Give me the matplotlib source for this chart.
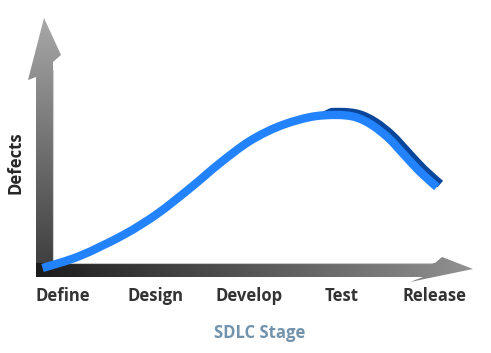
import numpy as np
import matplotlib
matplotlib.use("Agg")
import matplotlib.pyplot as plt
from matplotlib.patches import Polygon, PathPatch
from matplotlib.path import Path
import matplotlib.transforms as mtransforms

# ---- data ----
stages = ["Define", "Design", "Develop", "Test", "Release"]
curve_x = [-0.22, 0.18, 0.65, 1.01, 1.37, 1.69, 2.01, 2.33,
           2.66, 2.93, 3.14, 3.32, 3.50, 3.67, 3.84, 4.02]
curve_defects = [0.0, 6.4, 17.6, 28.7, 42.6, 55.9, 67.6, 75.5,
                 80.3, 81.4, 80.3, 76.1, 69.1, 60.1, 51.1, 43.1]
x_title = "SDLC Stage"
y_title = "Defects"

W, H = 491, 353
fig = plt.figure(figsize=(W / 100, H / 100), dpi=100)
fig.patch.set_facecolor("white")

# background axes in pixel coordinates for decorative gradient arrows
bg = fig.add_axes([0, 0, 1, 1])
bg.set_xlim(0, W)
bg.set_ylim(H, 0)
bg.axis("off")

def grad_arrow(poly, direction, c0, c1, extent):
    x0, x1, y0, y1 = extent
    n = 256
    t = np.linspace(0, 1, n)
    c0 = np.array(matplotlib.colors.to_rgb(c0))
    c1 = np.array(matplotlib.colors.to_rgb(c1))
    cols = c0[None, :] * (1 - t[:, None]) + c1[None, :] * t[:, None]
    if direction == "h":
        img = np.tile(cols[None, :, :], (4, 1, 1))
    else:
        img = np.tile(cols[:, None, :], (1, 4, 1))
    patch = Polygon(poly, closed=True, facecolor="none", edgecolor="none")
    bg.add_patch(patch)
    im = bg.imshow(img, extent=(x0, x1, y1, y0), origin="upper",
                   aspect="auto", interpolation="bilinear", zorder=1)
    im.set_clip_path(patch)

# vertical arrow (dark at bottom, light at top)
v_poly = [(36, 277), (36, 77), (28, 80), (44, 18), (61, 55), (53, 62), (53, 277)]
grad_arrow(v_poly, "v", "#3a3a3a", "#a8a8a8", (20, 70, 277, 18))
# horizontal arrow (dark left, light right)
h_poly = [(36, 263), (435, 263), (442, 257), (473, 269), (410, 282), (423, 277), (36, 277)]
grad_arrow(h_poly, "h", "#1c1c1c", "#929292", (36, 473, 290, 250))
bg.plot([53, 53], [70, 262], color="#d0d0d0", lw=0.8, zorder=2)
bg.plot([53, 432], [263, 263], color="#c8c8c8", lw=0.8, zorder=2)

# data axes with stage units
ax = fig.add_axes([0, 0, 1, 1])
ax.patch.set_alpha(0)
px_per_stage = 93.0
x_left = -63 / px_per_stage
x_right = (W - 63) / px_per_stage
px_per_def = 1.88
ax.set_xlim(x_left, x_right)
ax.set_ylim((268 - H) / px_per_def, 268 / px_per_def)
ax.axis("off")


def smooth_path(xs, ys):
    """Catmull-Rom through the points, rendered as cubic Bezier path."""
    p = np.column_stack([xs, ys]).astype(float)
    n = len(p)
    verts = [p[0]]
    codes = [Path.MOVETO]
    for i in range(n - 1):
        p0 = p[i - 1] if i > 0 else p[i]
        p1 = p[i]
        p2 = p[i + 1]
        p3 = p[i + 2] if i + 2 < n else p[i + 1]
        c1 = p1 + (p2 - p0) / 6.0
        c2 = p2 - (p3 - p1) / 6.0
        verts += [c1, c2, p2]
        codes += [Path.CURVE4] * 3
    return Path(verts, codes)


full = smooth_path(curve_x, curve_defects)

off = mtransforms.offset_copy(ax.transData, fig=fig, x=3.5, y=3.0, units="dots")
side = PathPatch(full, facecolor="none", edgecolor="#0a479a", lw=6.0,
                 capstyle="butt", joinstyle="round", transform=off, zorder=3)
ax.add_patch(side)
clip = Polygon([(322, 353), (322, 112), (352, 98), (352, 0), (491, 0), (491, 353)],
               closed=True, transform=bg.transData, facecolor="none", edgecolor="none")
side.set_clip_path(clip)
ax.add_patch(PathPatch(full, facecolor="none", edgecolor="#2383ff", lw=6.0,
                       capstyle="butt", joinstyle="round", zorder=4))

font = "Open Sans"
label_y = (268 - 296) / px_per_def
for i, s in enumerate(stages):
    ax.text(i, label_y, s, ha="center", va="center", fontsize=12,
            fontweight="bold", family=font, color="#333333")

fig.text(260 / W, 1 - 333 / H, x_title, ha="center", va="center", fontsize=12,
         fontweight="bold", family=font, color="#7393ad")
fig.text(15 / W, 1 - 163 / H, y_title, ha="center", va="center", fontsize=12,
         fontweight="bold", family=font, color="#262626", rotation=90)

fig.savefig("out.png", dpi=100, facecolor="white")
